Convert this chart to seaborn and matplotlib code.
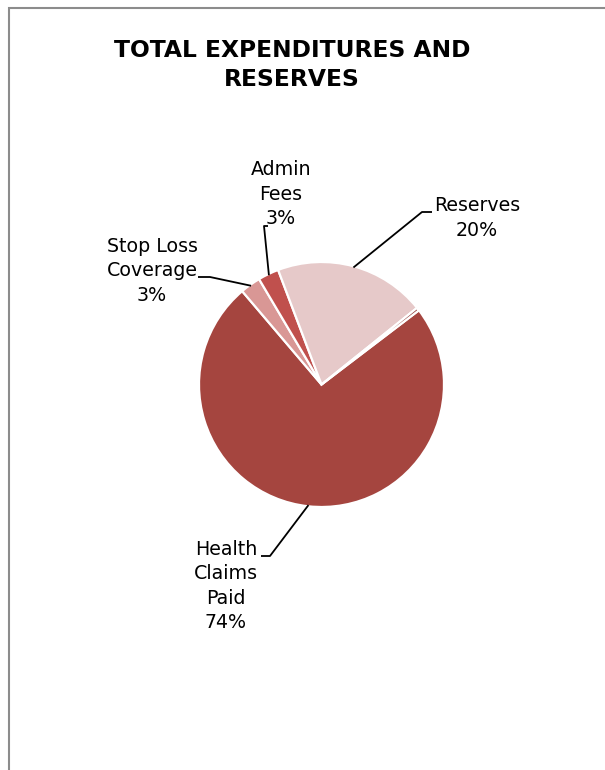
import matplotlib
matplotlib.use("Agg")
import matplotlib.pyplot as plt
import seaborn as sns
import numpy as np
from matplotlib.patches import Rectangle

# ---- data ----
categories = ["Health\nClaims\nPaid", "Stop Loss\nCoverage", "Admin\nFees", "Reserves", "Other"]
shares = [74.15, 2.7, 2.75, 20.0, 0.4]
pct_labels = ["74%", "3%", "3%", "20%", None]
colors = ["#A5453F", "#D99795", "#C0504D", "#E6C9C9", "#8E3A37"]
title = "TOTAL EXPENDITURES AND\nRESERVES"

sns.set_theme(style="white")
plt.rcParams['font.family'] = ['DejaVu Sans']

W, H = 605, 770
fig = plt.figure(figsize=(W / 100, H / 100), dpi=100)
fig.patch.set_facecolor("white")

# pie geometry in pixels
cx, cy, r = 321.5, 384.5, 122.5
ax = fig.add_axes([(cx - r) / W, 1 - (cy + r) / H, 2 * r / W, 2 * r / H])
wedges, _ = ax.pie(shares, colors=colors, startangle=37.3, counterclock=False,
                   radius=1, wedgeprops=dict(edgecolor="white", linewidth=1.6))
for w in wedges:
    w.set_clip_on(False)
ax.set_xlim(-1, 1)
ax.set_ylim(-1, 1)
ax.set_aspect("equal")
ax.axis("off")


def p2d(px, py):
    return (px - cx) / r, (cy - py) / r


# label layout (pixel positions): text center, elbow, horizontal end
layout = [
    dict(text=(226, 586), elbow=(270, 556), end=(261, 556)),
    dict(text=(152, 271), elbow=(210, 277), end=(198, 277)),
    dict(text=(281, 194), elbow=(264, 226), end=(268, 226)),
    dict(text=(477, 218), elbow=(422, 212), end=(432, 212)),
]

for i, lay in enumerate(layout):
    w = wedges[i]
    theta = np.deg2rad((w.theta1 + w.theta2) / 2)
    ex, ey = np.cos(theta) * 0.99, np.sin(theta) * 0.99
    bx, by = p2d(*lay["elbow"])
    hx, hy = p2d(*lay["end"])
    ax.plot([ex, bx, hx], [ey, by, hy], color="black", lw=1.3, clip_on=False,
            solid_capstyle="butt")
    tx, ty = p2d(*lay["text"])
    ax.text(tx, ty, f"{categories[i]}\n{pct_labels[i]}", ha="center", va="center",
            fontsize=13.7, linespacing=1.37, color="black", clip_on=False,
            multialignment="center")

fig.text(292 / W, 1 - 65 / H, title, ha="center", va="center", fontsize=16.8,
         fontweight="bold", linespacing=1.3, color="black")

fig.add_artist(Rectangle((9 / W, -0.1), 1.0, (1 - 8 / H) + 0.1,
                         transform=fig.transFigure, fill=False,
                         edgecolor="#8c8c8c", lw=1.5))

fig.savefig("out.png", dpi=100)
